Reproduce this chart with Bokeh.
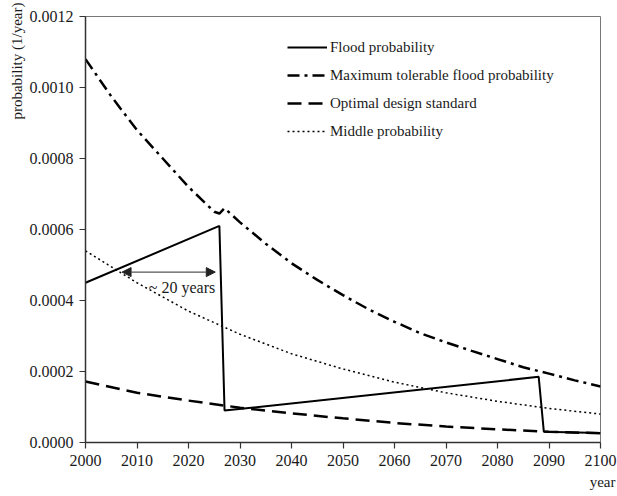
from bokeh.plotting import figure
from bokeh.models import Range1d, Label, Arrow, NormalHead, FixedTicker, NumeralTickFormatter, Title
from bokeh.embed import file_html
from bokeh.resources import INLINE

# ---- data ----
flood_years = [2000, 2026, 2027, 2088, 2089, 2100]
flood_prob = [0.00045, 0.00061, 0.00009, 0.000185, 0.00003, 0.000027]

max_years = [2000, 2005, 2010, 2015, 2020, 2025, 2026, 2027, 2030, 2035, 2040, 2045,
             2050, 2055, 2060, 2065, 2070, 2075, 2080, 2085, 2090, 2095, 2100]
max_prob = [0.00108, 0.000975, 0.00088, 0.0008, 0.00072, 0.00065, 0.000645, 0.00066,
            0.00062, 0.00056, 0.000505, 0.000458, 0.000415, 0.000375, 0.00034,
            0.000308, 0.000282, 0.000258, 0.000235, 0.000212, 0.000194, 0.000175, 0.000158]

opt_years = [2000, 2010, 2020, 2030, 2040, 2050, 2060, 2070, 2080, 2090, 2100]
opt_prob = [0.000172, 0.00014, 0.000118, 0.000098, 0.000082, 0.000068, 0.000055,
            0.000045, 0.000037, 0.00003, 0.000026]

mid_years = [2000, 2010, 2020, 2030, 2040, 2050, 2060, 2070, 2080, 2090, 2100]
mid_prob = [0.00054, 0.00045, 0.00037, 0.000305, 0.00025, 0.000207, 0.00017,
            0.00014, 0.000116, 0.000096, 0.00008]

x_ticks = [2000, 2010, 2020, 2030, 2040, 2050, 2060, 2070, 2080, 2090, 2100]
y_ticks = [0.0, 0.0002, 0.0004, 0.0006, 0.0008, 0.0010, 0.0012]

arrow_x = [2007.1, 2025.2]
arrow_y = 0.00048
note_text = "~ 20 years"
note_pos = (2025.2, 0.000437)

SERIF = "Liberation Serif"
INK = "#1a1a1a"

p = figure(width=617, height=496, output_backend="svg", toolbar_location=None,
           x_range=Range1d(2000, 2100), y_range=Range1d(0, 0.0012),
           min_border_left=85, min_border_right=17, min_border_top=16, min_border_bottom=54)
p.background_fill_color = "white"
p.border_fill_color = "white"
p.outline_line_color = "#777777"
p.outline_line_width = 1
p.xgrid.visible = False
p.ygrid.visible = False

for ax in (p.xaxis[0], p.yaxis[0]):
    ax.major_label_text_font = SERIF
    ax.major_label_text_font_size = "16px"
    ax.major_label_text_color = INK
    ax.axis_line_color = "#333333"
    ax.axis_line_width = 1.5
    ax.major_tick_line_color = "#333333"
    ax.major_tick_line_width = 1.2
    ax.major_tick_out = 6
    ax.major_tick_in = 0
    ax.minor_tick_line_color = None

p.xaxis.ticker = FixedTicker(ticks=x_ticks)
p.yaxis.ticker = FixedTicker(ticks=y_ticks)
p.yaxis.formatter = NumeralTickFormatter(format="0.0000")
p.xaxis.major_label_standoff = 6
p.yaxis.major_label_standoff = 6

p.line(flood_years, flood_prob, line_color="black", line_width=2,
       legend_label="Flood probability")
p.line(max_years, max_prob, line_color="black", line_width=2.5, line_dash="12 5 3 5",
       legend_label="Maximum tolerable flood probability")
p.line(opt_years, opt_prob, line_color="black", line_width=2.5, line_dash="14 7",
       legend_label="Optimal design standard")
p.line(mid_years, mid_prob, line_color="black", line_width=1.5, line_dash="2 3",
       legend_label="Middle probability")

p.add_layout(Arrow(start=NormalHead(size=9, fill_color="#222222", line_color="#222222"),
                   end=NormalHead(size=9, fill_color="#222222", line_color="#222222"),
                   x_start=arrow_x[0], y_start=arrow_y, x_end=arrow_x[1], y_end=arrow_y,
                   line_color="#555555", line_width=1.3))
p.add_layout(Label(x=note_pos[0], y=note_pos[1], text=note_text, text_align="right",
                   text_baseline="middle", text_font=SERIF, text_font_size="16px",
                   text_color=INK))

# axis titles placed like the reference (top-left and bottom-right)
p.add_layout(Title(text="probability (1/year)", align="right", offset=-14, standoff=0,
                   vertical_align="top",
                   text_font=SERIF, text_font_size="15px", text_font_style="normal",
                   text_color=INK), "left")
p.add_layout(Title(text="year", align="right", offset=-15, standoff=6,
                   text_font=SERIF, text_font_size="15px", text_font_style="normal",
                   text_color=INK), "below")

lg = p.legend[0]
lg.location = (202, 301)
lg.border_line_color = None
lg.background_fill_alpha = 0
lg.label_text_font = SERIF
lg.label_text_font_size = "15px"
lg.label_text_color = INK
lg.glyph_width = 40
lg.glyph_height = 20
lg.label_height = 20
lg.spacing = 8
lg.padding = 0
lg.margin = 0
lg.label_standoff = 3

open("out.html", "w").write(file_html(p, INLINE))
